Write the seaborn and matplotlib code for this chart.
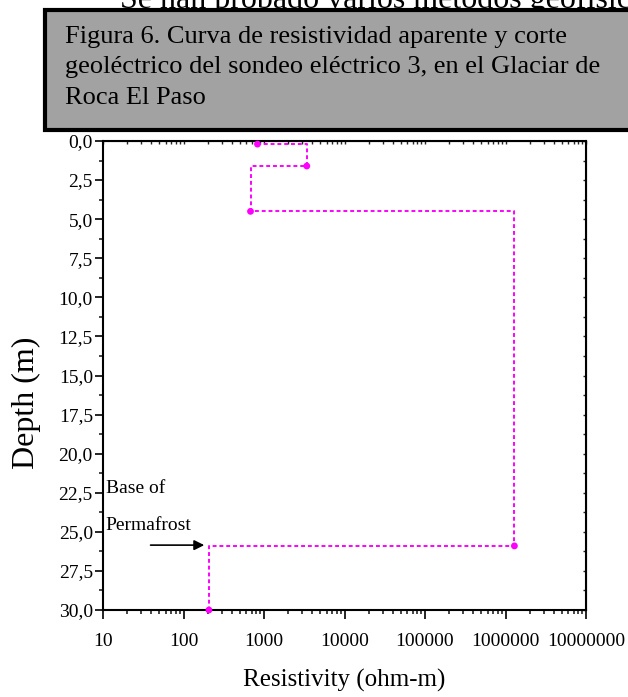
import numpy as np
import pandas as pd
import seaborn as sns
import matplotlib.pyplot as plt
from matplotlib.patches import Rectangle
from matplotlib.ticker import FixedLocator, MultipleLocator, LogLocator, NullFormatter

# layer data
resistivity = [830, 3400, 680, 1290000, 207]
depth = [0.2, 1.6, 4.5, 25.9, 30.0]
x_ticks = [10, 100, 1000, 10000, 100000, 1000000, 10000000]
x_labels = ["10", "100", "1000", "10000", "100000", "1000000", "10000000"]
y_ticks = [0, 2.5, 5, 7.5, 10, 12.5, 15, 17.5, 20, 22.5, 25, 27.5, 30]
y_labels = ["0,0", "2,5", "5,0", "7,5", "10,0", "12,5", "15,0", "17,5",
            "20,0", "22,5", "25,0", "27,5", "30,0"]
caption = ("Figura 6. Curva de resistividad aparente y corte\n"
           "geoléctrico del sondeo eléctrico 3, en el Glaciar de\n"
           "Roca El Paso")

df = pd.DataFrame({"res": resistivity, "depth": depth})

sns.set_style("white")
plt.rcParams['font.family'] = ['Liberation Serif', 'DejaVu Serif']
plt.rcParams['text.color'] = 'black'
plt.rcParams['axes.labelcolor'] = 'black'

fig = plt.figure(figsize=(6.28, 6.97), dpi=100)
W, H = 628, 697
ax = fig.add_axes([103 / W, 1 - 610 / H, 483 / W, 469 / H])

sns.lineplot(data=df, x="res", y="depth", sort=False, estimator=None,
             drawstyle="steps-post", color="#ff00ff", linestyle=(0, (2, 1.5)),
             linewidth=1.4, ax=ax)
sns.scatterplot(data=df, x="res", y="depth", color="#ff00ff", s=24,
                edgecolor="none", ax=ax, zorder=3, clip_on=False)

ax.set_xscale("log")
ax.set_xlim(10, 1e7)
ax.set_ylim(30, 0)
ax.xaxis.set_major_locator(FixedLocator(x_ticks))
ax.set_xticklabels(x_labels)
ax.xaxis.set_minor_locator(LogLocator(base=10, subs=np.arange(2, 10)))
ax.xaxis.set_minor_formatter(NullFormatter())
ax.yaxis.set_major_locator(FixedLocator(y_ticks))
ax.set_yticklabels(y_labels)
ax.yaxis.set_minor_locator(MultipleLocator(1.25))

for s in ax.spines.values():
    s.set_visible(True)
    s.set_color("black")
    s.set_linewidth(1.5)

ax.tick_params(axis="both", which="major", labelsize=14, colors="black")
ax.tick_params(axis="y", which="major", direction="out", length=5.8, width=1.2,
               left=True, pad=1.5)
ax.tick_params(axis="y", which="minor", direction="out", length=3, width=1.2, left=True)
ax.tick_params(axis="x", which="major", direction="out", length=6.5, width=1.2,
               bottom=True, pad=10)
ax.tick_params(axis="x", which="minor", direction="out", length=3, width=1.2, bottom=True)

# mirrored inward ticks on top and right
axr = ax.secondary_yaxis("right")
axr.yaxis.set_major_locator(MultipleLocator(1.25))
axr.tick_params(direction="in", length=2.2, width=1.0, labelright=False)
axt = ax.secondary_xaxis("top")
axt.xaxis.set_major_locator(FixedLocator(x_ticks))
axt.xaxis.set_minor_locator(LogLocator(base=10, subs=np.arange(2, 10)))
axt.xaxis.set_minor_formatter(NullFormatter())
axt.tick_params(which="both", direction="in", length=2.2, width=1.0, labeltop=False)

ax.set_xlabel("Resistivity (ohm-m)", fontsize=18, labelpad=14)
ax.set_ylabel("Depth (m)", fontsize=23)
ax.yaxis.set_label_coords(-0.128, 0.441)

ax.text(10.8, 22.2, "Base of", fontsize=14, va="center", ha="left")
ax.text(10.8, 24.6, "Permafrost", fontsize=14, va="center", ha="left")
ax.annotate("", xy=(196, 25.85), xytext=(36, 25.85),
            arrowprops=dict(arrowstyle="-|>", color="black", lw=1.2, mutation_scale=15))

# caption box above the plot
fig.text(120 / W, 1 - 8 / H, "Se han probado varios métodos geofísicos",
         fontsize=23, va="baseline", ha="left", zorder=1)
box = Rectangle((45 / W, 1 - 130 / H), 600 / W, 120 / H, transform=fig.transFigure,
                facecolor="#a2a2a2", edgecolor="black", linewidth=3, zorder=5)
fig.patches.append(box)
fig.text(65 / W, 1 - 26 / H, caption, fontsize=19, va="top", ha="left",
         linespacing=1.5, zorder=6)

fig.savefig("out.png", dpi=100)
